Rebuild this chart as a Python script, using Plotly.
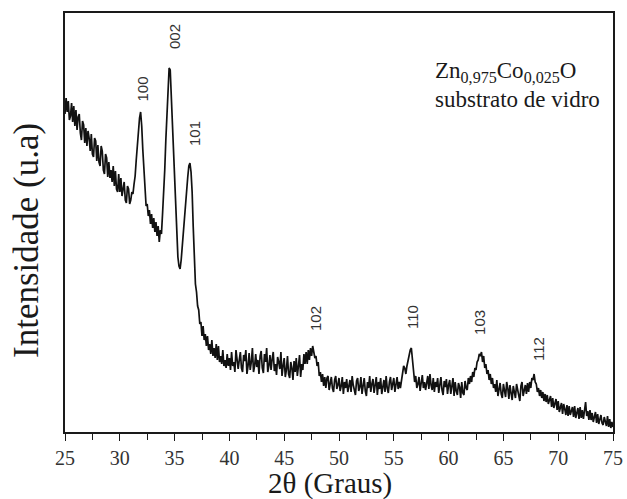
import numpy as np
import plotly.graph_objects as go

# Scan grid: 2-theta from 25.0 to 75.0 in steps of 0.1 deg
two_theta_start = 25.0
two_theta_step = 0.1

# Intensity (arbitrary units), one row per degree (x.0 ... x.9)
intensity_rows = [
    [318, 334, 320, 331, 312, 316, 329, 310, 326, 306],  # 25
    [322, 302, 315, 318, 299, 292, 311, 307, 289, 304],  # 26
    [286, 301, 294, 281, 298, 278, 275, 294, 291, 271],  # 27
    [287, 270, 266, 286, 281, 262, 258, 278, 274, 255],  # 28
    [270, 254, 262, 250, 266, 246, 261, 243, 240, 258],  # 29
    [240, 254, 236, 246, 250, 232, 229, 246, 243, 228],  # 30
    [232, 240, 238, 248, 256, 272, 287, 303, 314, 320],  # 31
    [306, 282, 258, 242, 226, 228, 216, 222, 208, 218],  # 32
    [204, 214, 200, 210, 196, 206, 190, 202, 198, 218],  # 33
    [238, 262, 292, 322, 348, 364, 362, 335, 305, 272],  # 34
    [240, 212, 190, 175, 166, 163, 172, 186, 200, 218],  # 35
    [235, 245, 255, 266, 269, 260, 240, 205, 170, 148],  # 36
    [140, 126, 122, 108, 110, 96, 106, 92, 98, 86],      # 37
    [96, 82, 88, 78, 92, 76, 84, 74, 88, 72],            # 38
    [86, 70, 76, 68, 82, 66, 72, 64, 78, 66],            # 39
    [74, 62, 80, 66, 70, 60, 82, 68, 63, 72],            # 40
    [80, 64, 60, 77, 71, 82, 58, 66, 79, 62],            # 41
    [70, 84, 60, 66, 78, 65, 72, 58, 76, 81],            # 42
    [64, 59, 78, 70, 84, 60, 66, 77, 62, 73],            # 43
    [80, 61, 68, 57, 75, 70, 63, 80, 56, 66],            # 44
    [74, 55, 62, 76, 58, 54, 70, 64, 52, 71],            # 45
    [60, 74, 56, 66, 77, 55, 68, 62, 78, 68],            # 46
    [80, 68, 82, 72, 84, 76, 86, 80, 74, 76],            # 47
    [66, 70, 56, 60, 50, 58, 46, 55, 44, 54],            # 48
    [56, 42, 48, 55, 44, 40, 52, 56, 43, 47],            # 49
    [54, 41, 46, 55, 38, 50, 44, 53, 40, 47],            # 50
    [52, 40, 56, 47, 42, 37, 51, 54, 41, 45],            # 51
    [55, 38, 46, 54, 41, 36, 50, 44, 56, 40],            # 52
    [48, 53, 39, 45, 55, 37, 50, 43, 54, 38],            # 53
    [46, 52, 40, 56, 44, 39, 50, 55, 42, 48],            # 54
    [54, 40, 47, 55, 43, 50, 44, 52, 62, 66],            # 55
    [64, 58, 66, 72, 78, 82, 84, 74, 62, 50],            # 56
    [56, 44, 48, 55, 41, 52, 57, 44, 50, 42],            # 57
    [49, 56, 43, 58, 47, 42, 54, 40, 50, 45],            # 58
    [54, 39, 47, 55, 42, 37, 51, 45, 53, 38],            # 59
    [47, 52, 38, 44, 54, 36, 50, 41, 37, 49],            # 60
    [45, 34, 50, 39, 37, 51, 44, 42, 54, 48],            # 61
    [56, 50, 60, 55, 64, 62, 70, 72, 78, 76],            # 62
    [80, 70, 76, 64, 68, 58, 62, 52, 58, 48],            # 63
    [54, 44, 48, 40, 52, 36, 45, 49, 38, 34],            # 64
    [48, 41, 35, 50, 44, 33, 47, 39, 32, 46],            # 65
    [40, 34, 48, 42, 35, 31, 46, 50, 36, 43],            # 66
    [47, 38, 49, 40, 50, 44, 54, 52, 58, 50],            # 67
    [48, 40, 44, 36, 42, 34, 40, 31, 38, 30],            # 68
    [37, 28, 32, 36, 25, 34, 24, 29, 33, 22],            # 69
    [31, 20, 26, 29, 18, 28, 23, 17, 27, 16],            # 70
    [26, 17, 21, 25, 15, 26, 14, 20, 24, 13],            # 71
    [25, 14, 22, 13, 24, 30, 16, 21, 12, 22],            # 72
    [12, 19, 10, 15, 20, 9, 18, 8, 14, 17],              # 73
    [9, 7, 15, 11, 6, 16, 5, 13, 4, 10],                 # 74
    [5],                                                 # 75.0
]

# Miller-index labels of the peaks and where they sit (2-theta, height)
peak_labels = ["100", "002", "101", "102", "110", "103", "112"]
peak_label_x = [32.07, 34.95, 36.77, 47.81, 56.66, 62.77, 68.16]
peak_label_y = [343, 395, 298, 113, 115, 110, 83]

x_tick_values = [25, 30, 35, 40, 45, 50, 55, 60, 65, 70, 75]
x_tick_labels = ["25", "30", "35", "40", "45", "50", "55", "60", "65", "70", "75"]

intensity = [v for row in intensity_rows for v in row]
two_theta = np.round(two_theta_start + two_theta_step * np.arange(len(intensity)), 2)

serif = "Liberation Serif"
sans = "Liberation Sans"
ink = "#1a1a1a"

fig = go.Figure()
fig.add_trace(go.Scatter(
    x=two_theta, y=intensity, mode="lines",
    line=dict(color="#111111", width=1.7),
    showlegend=False, hoverinfo="skip",
))

annotations = []
for lab, lx, ly in zip(peak_labels, peak_label_x, peak_label_y):
    annotations.append(dict(
        x=lx, y=ly, xref="x", yref="y", text=lab, showarrow=False,
        textangle=-90, xanchor="center", yanchor="middle",
        font=dict(family=sans, size=15, color="#333333"),
    ))

# Sample description
annotations.append(dict(
    x=(433 - 65) / 548, y=(432 - 72) / 419, xref="paper", yref="paper",
    text="Zn<sub>0,975</sub>Co<sub>0,025</sub>O", showarrow=False,
    xanchor="left", yanchor="middle",
    font=dict(family=serif, size=23, color=ink),
))
annotations.append(dict(
    x=(433 - 65) / 548, y=(432 - 100) / 419, xref="paper", yref="paper",
    text="substrato de vidro", showarrow=False,
    xanchor="left", yanchor="middle",
    font=dict(family=serif, size=23, color=ink),
))
# Axis titles
annotations.append(dict(
    x=(330 - 65) / 548, y=(432 - 484) / 419, xref="paper", yref="paper",
    text="2θ (Graus)", showarrow=False, xanchor="center", yanchor="middle",
    font=dict(family=serif, size=29, color=ink),
))
annotations.append(dict(
    x=(26 - 65) / 548, y=(432 - 241) / 419, xref="paper", yref="paper",
    text="Intensidade (u.a)", showarrow=False, textangle=-90,
    xanchor="center", yanchor="middle",
    font=dict(family=serif, size=35, color=ink),
))

fig.update_layout(
    width=627, height=499,
    margin=dict(l=65, r=14, t=13, b=67, autoexpand=False),
    paper_bgcolor="white", plot_bgcolor="white",
    annotations=annotations,
    xaxis=dict(
        range=[25, 75], showgrid=False, zeroline=False,
        showline=True, linecolor=ink, linewidth=1.5, mirror=True,
        ticks="outside", ticklen=7, tickwidth=1.3, tickcolor=ink,
        tickvals=x_tick_values, ticktext=x_tick_labels,
        tickfont=dict(family=serif, size=20, color="#333333"),
        minor=dict(ticks="outside", ticklen=6, tickwidth=1.2, tickcolor=ink, dtick=2.5, tick0=25),
    ),
    yaxis=dict(
        range=[0, 419], showgrid=False, zeroline=False,
        showline=True, linecolor=ink, linewidth=1.5, mirror=True,
        ticks="", showticklabels=False,
    ),
)

fig.write_html("out.html")
